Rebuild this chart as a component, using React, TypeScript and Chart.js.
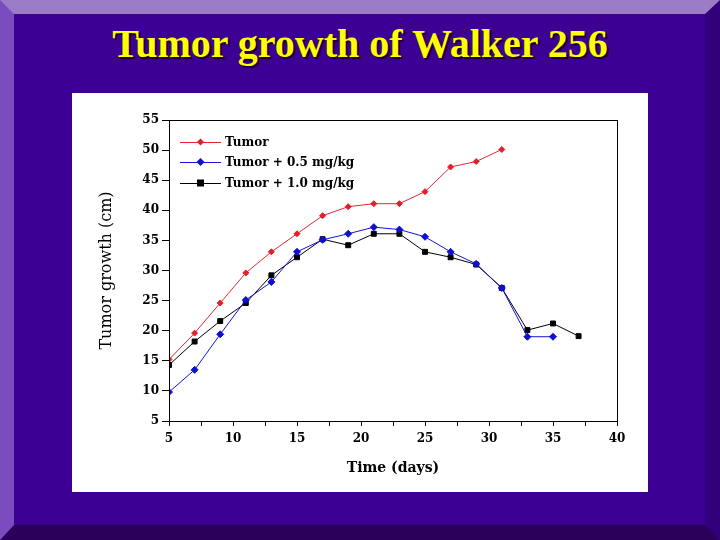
import React, { useEffect, useRef } from "react";
import { Chart, registerables } from "chart.js";

Chart.register(...registerables);

const chartTitle = "Tumor growth of Walker 256";
const xAxisTitle = "Time (days)";
const yAxisTitle = "Tumor growth (cm)";

const seriesNames = ["Tumor", "Tumor + 0.5 mg/kg", "Tumor + 1.0 mg/kg"];

const tumorDays = [5, 7, 9, 11, 13, 15, 17, 19, 21, 23, 25, 27, 29, 31];
const tumorValues = [15.2, 19.6, 24.6, 29.6, 33.1, 36.1, 39.1, 40.6, 41.1, 41.1, 43.1, 47.2, 48.1, 50.1];

const dose05Days = [5, 7, 9, 11, 13, 15, 17, 19, 21, 23, 25, 27, 29, 31, 33, 35];
const dose05Values = [9.8, 13.5, 19.4, 25.1, 28.1, 33.1, 35.1, 36.1, 37.2, 36.8, 35.6, 33.1, 31.1, 27.1, 19.0, 19.0];

const dose10Days = [5, 7, 9, 11, 13, 15, 17, 19, 21, 23, 25, 27, 29, 31, 33, 35, 37];
const dose10Values = [14.3, 18.2, 21.6, 24.6, 29.2, 32.2, 35.2, 34.2, 36.1, 36.1, 33.1, 32.2, 31.0, 27.1, 20.1, 21.2, 19.1];

const xMin = 5;
const xMax = 40;
const xStep = 2.5;
const xLabelStep = 5;
const yMin = 5;
const yMax = 55;
const yStep = 5;

const toPoints = (xs: number[], ys: number[]) => xs.map((x, i) => ({ x, y: ys[i] }));

const boxPlugin = {
  id: "plotBox",
  afterDraw(chart: any) {
    const { ctx, chartArea } = chart;
    ctx.save();
    ctx.strokeStyle = "#000";
    ctx.lineWidth = 1;
    ctx.strokeRect(
      Math.round(chartArea.left) + 0.5,
      Math.round(chartArea.top) + 0.5,
      Math.round(chartArea.right - chartArea.left),
      Math.round(chartArea.bottom - chartArea.top)
    );
    ctx.restore();
  },
};

const legendPlugin = {
  id: "innerLegend",
  afterDatasetsDraw(chart: any) {
    const { ctx, chartArea } = chart;
    const rows = [22, 42, 63];
    ctx.save();
    chart.data.datasets.forEach((ds: any, i: number) => {
      const y = chartArea.top + rows[i];
      const x0 = chartArea.left + 11;
      const x1 = chartArea.left + 52;
      const xc = (x0 + x1) / 2;
      ctx.strokeStyle = ds.borderColor;
      ctx.lineWidth = 1;
      ctx.beginPath();
      ctx.moveTo(x0, y + 0.5);
      ctx.lineTo(x1, y + 0.5);
      ctx.stroke();
      ctx.fillStyle = ds.pointBackgroundColor;
      const r = ds.pointRadius;
      ctx.beginPath();
      if (ds.pointStyle === "rect") {
        ctx.rect(xc - r, y - r, 2 * r, 2 * r);
      } else {
        ctx.moveTo(xc, y - r - 0.5);
        ctx.lineTo(xc + r + 0.5, y);
        ctx.lineTo(xc, y + r + 0.5);
        ctx.lineTo(xc - r - 0.5, y);
        ctx.closePath();
      }
      ctx.fill();
      ctx.fillStyle = "#000";
      ctx.font = "bold 12px 'DejaVu Serif'";
      ctx.textBaseline = "middle";
      ctx.textAlign = "left";
      ctx.fillText(ds.label, chartArea.left + 56, y + 1);
    });
    ctx.restore();
  },
};

function TumorChart() {
  const ref = useRef<HTMLCanvasElement | null>(null);
  useEffect(() => {
    if (!ref.current) return;
    const chart = new Chart(ref.current, {
      type: "line",
      data: {
        datasets: [
          {
            label: seriesNames[0],
            data: toPoints(tumorDays, tumorValues),
            borderColor: "rgb(228,40,48)",
            backgroundColor: "rgb(228,40,48)",
            pointBackgroundColor: "rgb(228,30,40)",
            pointBorderColor: "rgb(228,30,40)",
            pointStyle: "rectRot",
            pointRadius: 3,
            borderWidth: 1,
            tension: 0,
          },
          {
            label: seriesNames[1],
            data: toPoints(dose05Days, dose05Values),
            borderColor: "rgb(20,20,210)",
            backgroundColor: "rgb(20,20,210)",
            pointBackgroundColor: "rgb(15,15,210)",
            pointBorderColor: "rgb(15,15,210)",
            pointStyle: "rectRot",
            pointRadius: 3.5,
            borderWidth: 1,
            tension: 0,
          },
          {
            label: seriesNames[2],
            data: toPoints(dose10Days, dose10Values),
            borderColor: "#000",
            backgroundColor: "#000",
            pointBackgroundColor: "#000",
            pointBorderColor: "#000",
            pointStyle: "rect",
            pointRadius: 3.5,
            borderWidth: 1,
            tension: 0,
          },
        ],
      } as any,
      options: {
        animation: false,
        responsive: false,
        devicePixelRatio: 1,
        layout: { padding: { left: 0, right: 31, top: 27, bottom: 0 } },
        plugins: {
          legend: { display: false },
          tooltip: { enabled: false },
          title: { display: false },
        },
        scales: {
          x: {
            type: "linear",
            min: xMin,
            max: xMax,
            border: { display: true, color: "#000", width: 1 },
            grid: { drawOnChartArea: false, drawTicks: true, tickLength: 5, color: "#000" },
            ticks: {
              stepSize: xStep,
              autoSkip: false,
              maxRotation: 0,
              padding: 6,
              color: "#000",
              font: { family: "'DejaVu Serif'", size: 12, weight: "bold" },
              callback: (v: any) => (Number(v) % xLabelStep === 0 ? String(v) : ""),
            },
            title: {
              display: true,
              text: xAxisTitle,
              color: "#000",
              font: { family: "'DejaVu Serif'", size: 14, weight: "bold" },
              padding: { top: 0, bottom: 15 },
            },
            afterFit: (scale: any) => {
              scale.height = 71;
            },
          },
          y: {
            type: "linear",
            min: yMin,
            max: yMax,
            border: { display: true, color: "#000", width: 1 },
            grid: { drawOnChartArea: false, drawTicks: true, tickLength: 7, color: "#000" },
            ticks: {
              stepSize: yStep,
              padding: 3,
              color: "#000",
              font: { family: "'DejaVu Serif'", size: 12, weight: "bold" },
            },
            title: {
              display: true,
              text: yAxisTitle,
              color: "#000",
              font: { family: "'DejaVu Serif'", size: 16, weight: "normal" },
              padding: { top: 25, bottom: 0 },
            },
            afterFit: (scale: any) => {
              scale.width = 97;
            },
          },
        },
      } as any,
      plugins: [boxPlugin, legendPlugin],
    });
    return () => chart.destroy();
  }, []);
  return <canvas ref={ref} width={576} height={399} style={{ display: "block" }} />;
}

export default function App() {
  return (
    <div
      style={{
        position: "absolute",
        left: 0,
        top: 0,
        width: 720,
        height: 540,
        boxSizing: "border-box",
        background: "#3d0094",
        borderStyle: "solid",
        borderTopWidth: 14,
        borderLeftWidth: 14,
        borderRightWidth: 15,
        borderBottomWidth: 15,
        borderTopColor: "#9b7cc6",
        borderLeftColor: "#7b4cc0",
        borderRightColor: "#33007c",
        borderBottomColor: "#29005a",
        overflow: "hidden",
      }}
    >
      <div
        style={{
          position: "absolute",
          left: -14,
          top: 24 - 14,
          width: 720,
          textAlign: "center",
          fontFamily: "'Liberation Serif', 'Times New Roman', serif",
          fontWeight: "bold",
          fontSize: 40,
          lineHeight: "40px",
          color: "#ffff00",
          textShadow: "2px 2px 1px #1a0030",
          whiteSpace: "nowrap",
        }}
      >
        {chartTitle}
      </div>
      <div
        style={{
          position: "absolute",
          left: 72 - 14,
          top: 93 - 14,
          width: 576,
          height: 399,
          background: "#ffffff",
        }}
      >
        <TumorChart />
      </div>
    </div>
  );
}
